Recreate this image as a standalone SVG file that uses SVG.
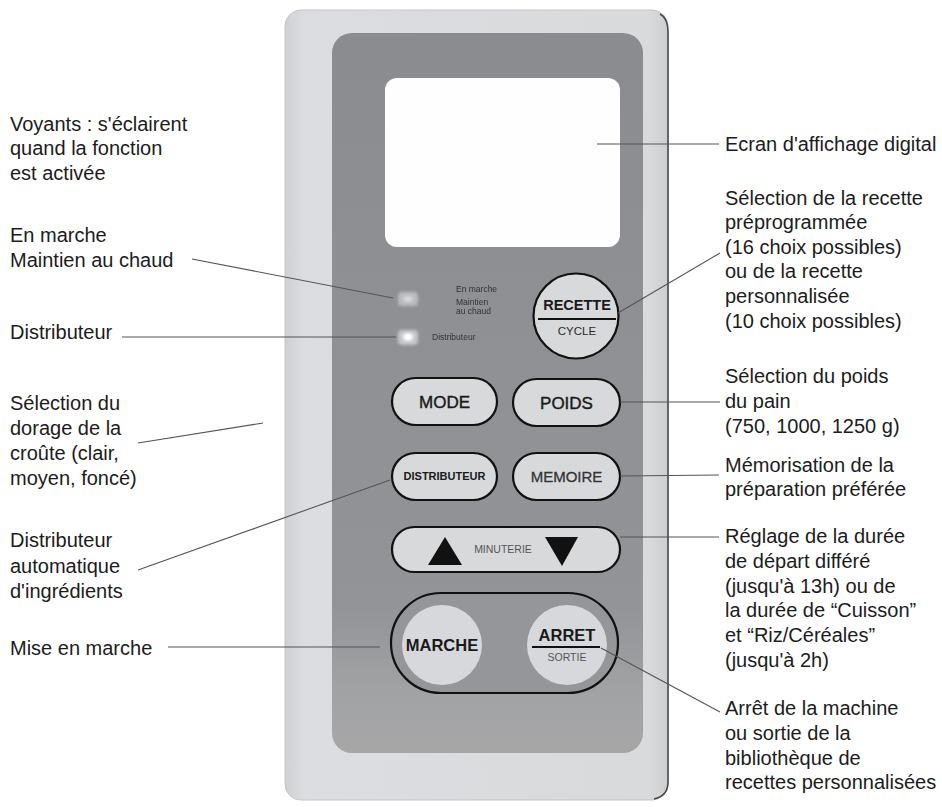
<svg xmlns="http://www.w3.org/2000/svg" width="942" height="807" viewBox="0 0 942 807">
<defs>
<style>
.lbl{font-family:"Liberation Sans",Arial,sans-serif;font-size:20px;fill:#1c1c1c}
.lead{stroke:#555;stroke-width:1.1;fill:none}
.btn{fill:#d8d9db;stroke:#111;stroke-width:2.2}
.bt{font-family:"Liberation Sans",Arial,sans-serif;font-weight:bold;fill:#1a1a1a;text-anchor:middle}
.bn{font-family:"Liberation Sans",Arial,sans-serif;font-weight:normal;fill:#2a2a2a;text-anchor:middle}
.sm{font-family:"Liberation Sans",Arial,sans-serif;fill:#333;font-size:8.5px}
</style>
<linearGradient id="inner" x1="0" y1="0" x2="0" y2="1">
<stop offset="0" stop-color="#8a8c8f"/>
<stop offset="0.8" stop-color="#929497"/>
<stop offset="0.92" stop-color="#a2a3a5"/>
<stop offset="1" stop-color="#a6a6a7"/>
</linearGradient>
<linearGradient id="outer" x1="0" y1="0" x2="1" y2="0">
<stop offset="0" stop-color="#cfd0d2"/>
<stop offset="0.05" stop-color="#dcdde0"/>
<stop offset="0.95" stop-color="#d9dadc"/>
<stop offset="1" stop-color="#cdced0"/>
</linearGradient>
<filter id="blur" x="-50%" y="-50%" width="200%" height="200%"><feGaussianBlur stdDeviation="1.6"/></filter>
<filter id="soft" x="-20%" y="-20%" width="140%" height="140%"><feGaussianBlur stdDeviation="0.35"/></filter>
</defs>

<g id="panel">
<rect x="285" y="10" width="383" height="790" rx="16" fill="url(#outer)" stroke="#c4c5c7" stroke-width="1"/>
<path d="M660 14 Q668 18 668 32 L668 782 Q668 796 654 799" fill="none" stroke="#4a4a4a" stroke-width="1.6"/>
<rect x="332" y="33" width="311" height="720" rx="20" fill="url(#inner)"/>
</g>

<g id="screen">
<rect x="385" y="78" width="235" height="169" rx="12" fill="#fefefe"/>
</g>

<g id="leds">
<rect x="398" y="292" width="20" height="14" rx="4" fill="#b9bbbe" filter="url(#blur)"/>
<ellipse cx="408" cy="299" rx="5" ry="3" fill="#d8dadc" filter="url(#blur)"/>
<rect x="398" y="330" width="20" height="15" rx="4" fill="#c4c6c9" filter="url(#blur)"/>
<ellipse cx="408" cy="337" rx="5" ry="4" fill="#ffffff" filter="url(#blur)"/>
<line x1="437" y1="289" x2="450" y2="289" stroke="#6e7073" stroke-width="2" filter="url(#soft)"/>
<line x1="437" y1="308" x2="450" y2="308" stroke="#6e7073" stroke-width="2" filter="url(#soft)"/>
<g filter="url(#soft)">
<text class="sm" x="456" y="292">En marche</text>
<text class="sm" x="456" y="305">Maintien</text>
<text class="sm" x="456" y="314">au chaud</text>
<text class="sm" x="432" y="340">Distributeur</text>
</g>
</g>

<g id="btn-recette">
<circle class="btn" cx="576" cy="316" r="42.5"/>
<text class="bt" x="577" y="310" font-size="14.5">RECETTE</text>
<line x1="538" y1="319" x2="616" y2="319" stroke="#111" stroke-width="2"/>
<text class="bn" x="577" y="335" font-size="11.5">CYCLE</text>
</g>

<g id="btn-mode">
<rect class="btn" x="392" y="378" width="105" height="47" rx="23.5"/>
<text class="bn" x="444.5" y="408" font-size="17" style="fill:#1a1a1a;stroke:#1a1a1a;stroke-width:0.4">MODE</text>
</g>

<g id="btn-poids">
<rect class="btn" x="513" y="379" width="107" height="47" rx="23.5"/>
<text class="bn" x="566.5" y="409" font-size="17" style="fill:#1a1a1a;stroke:#1a1a1a;stroke-width:0.4">POIDS</text>
</g>

<g id="btn-distributeur">
<rect class="btn" x="392" y="453" width="105" height="47" rx="23.5"/>
<text class="bt" x="444.5" y="480" font-size="11">DISTRIBUTEUR</text>
</g>

<g id="btn-memoire">
<rect class="btn" x="513" y="453" width="107" height="47" rx="23.5"/>
<text class="bn" x="566.5" y="482" font-size="15" style="fill:#333;stroke:#333;stroke-width:0.3">MEMOIRE</text>
</g>

<g id="btn-minuterie">
<rect class="btn" x="392" y="527" width="228" height="45" rx="22.5"/>
<polygon points="428,565 462,565 445,537" fill="#111"/>
<polygon points="545,537 578,537 562,566" fill="#111"/>
<text class="bn" x="503" y="553" font-size="10.5" style="fill:#555">MINUTERIE</text>
</g>

<g id="btn-marche-arret">
<rect x="391" y="593" width="227" height="100" rx="50" fill="#949699" stroke="#111" stroke-width="2.2"/>
<circle cx="442" cy="645" r="40" fill="#d6d8db"/>
<text class="bt" x="442" y="651" font-size="16.5">MARCHE</text>
<circle cx="567" cy="645" r="40" fill="#d6d8db"/>
<text class="bt" x="567" y="641" font-size="16.5">ARRET</text>
<line x1="532" y1="647" x2="600" y2="647" stroke="#111" stroke-width="2"/>
<text class="bn" x="567" y="661" font-size="10.5" style="fill:#555">SORTIE</text>
</g>

<g id="connectors">
<line class="lead" x1="192" y1="259" x2="393" y2="298"/>
<line class="lead" x1="122" y1="337" x2="396" y2="337"/>
<line class="lead" x1="138" y1="443" x2="263" y2="423"/>
<line class="lead" x1="138" y1="570" x2="390" y2="480"/>
<line class="lead" x1="168" y1="647" x2="380" y2="647"/>
<line class="lead" x1="597" y1="144" x2="719" y2="144"/>
<line class="lead" x1="618" y1="313" x2="720" y2="253"/>
<line class="lead" x1="620" y1="402" x2="720" y2="402"/>
<line class="lead" x1="620" y1="476" x2="719" y2="475"/>
<line class="lead" x1="620" y1="537" x2="719" y2="537"/>
<line class="lead" x1="601" y1="648" x2="720" y2="712"/>
</g>

<g id="labels-left">
<text class="lbl" x="10" y="131">Voyants : s'éclairent</text>
<text class="lbl" x="10" y="155">quand la fonction</text>
<text class="lbl" x="10" y="180">est activée</text>
<text class="lbl" x="10" y="242">En marche</text>
<text class="lbl" x="10" y="267">Maintien au chaud</text>
<text class="lbl" x="10" y="339">Distributeur</text>
<text class="lbl" x="10" y="410">Sélection du</text>
<text class="lbl" x="10" y="435">dorage de la</text>
<text class="lbl" x="10" y="460">croûte (clair,</text>
<text class="lbl" x="10" y="485">moyen, foncé)</text>
<text class="lbl" x="10" y="547">Distributeur</text>
<text class="lbl" x="10" y="573">automatique</text>
<text class="lbl" x="10" y="598">d'ingrédients</text>
<text class="lbl" x="10" y="655">Mise en marche</text>
</g>

<g id="labels-right">
<text class="lbl" x="725" y="151">Ecran d'affichage digital</text>
<text class="lbl" x="725" y="205">Sélection de la recette</text>
<text class="lbl" x="725" y="229">préprogrammée</text>
<text class="lbl" x="725" y="254">(16 choix possibles)</text>
<text class="lbl" x="725" y="278">ou de la recette</text>
<text class="lbl" x="725" y="303">personnalisée</text>
<text class="lbl" x="725" y="328">(10 choix possibles)</text>
<text class="lbl" x="725" y="383">Sélection du poids</text>
<text class="lbl" x="725" y="408">du pain</text>
<text class="lbl" x="725" y="433">(750, 1000, 1250 g)</text>
<text class="lbl" x="725" y="472">Mémorisation de la</text>
<text class="lbl" x="725" y="496">préparation préférée</text>
<text class="lbl" x="725" y="543">Réglage de la durée</text>
<text class="lbl" x="725" y="568">de départ différé</text>
<text class="lbl" x="725" y="593">(jusqu'à 13h) ou de</text>
<text class="lbl" x="725" y="617">la durée de “Cuisson”</text>
<text class="lbl" x="725" y="642">et “Riz/Céréales”</text>
<text class="lbl" x="725" y="667">(jusqu'à 2h)</text>
<text class="lbl" x="725" y="715">Arrêt de la machine</text>
<text class="lbl" x="725" y="740">ou sortie de la</text>
<text class="lbl" x="725" y="765">bibliothèque de</text>
<text class="lbl" x="725" y="789">recettes personnalisées</text>
</g>
</svg>
